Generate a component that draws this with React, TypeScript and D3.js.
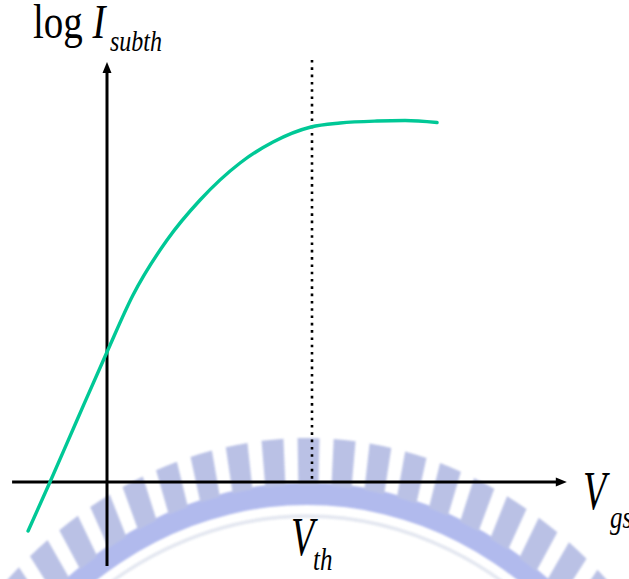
import React from "react";
import * as d3 from "d3";

// Gate voltage (Vth = 1) and log of subthreshold current, in decades
const vgs = [-0.385, -0.278, -0.146, 0, 0.127, 0.293, 0.454, 0.649, 0.81, 0.995, 1.137, 1.317, 1.454, 1.61];
const logI = [-0.49, 0, 0.62, 1.3, 1.87, 2.42, 2.82, 3.19, 3.4, 3.55, 3.59, 3.61, 3.615, 3.595];

const vth = 1;
const xAxisRange = [-0.463, 2.243];
const yAxisRange = [-0.84, 4.2];
const vthLineTop = 4.22;

// gear-shaped seal behind the lower part of the plot
const sealTeeth = d3.range(-19, 20);
const toothStep = 4.6;
const toothOffset = 0.2;
const toothWidth = 2.8;

const W = 629;
const H = 579;

export default function App() {
  const x = d3.scaleLinear().domain([0, 1]).range([107, 312]);
  const y = d3.scaleLinear().domain([0, 1]).range([482, 382]);

  const pts = vgs.map((v, i) => [v, logI[i]] as [number, number]);
  const line = d3
    .line<[number, number]>()
    .x((d) => x(d[0]))
    .y((d) => y(d[1]))
    .curve(d3.curveMonotoneX);

  const rad = Math.PI / 180;
  const band = d3.arc()({
    innerRadius: 396,
    outerRadius: 414,
    startAngle: -90 * rad,
    endAngle: 90 * rad,
  } as any) as string;
  const teeth = sealTeeth.map((k) => {
    const c = k * toothStep + toothOffset;
    return d3.arc()({
      innerRadius: 412,
      outerRadius: 450,
      startAngle: (c - toothWidth / 2) * rad,
      endAngle: (c + toothWidth / 2) * rad,
    } as any) as string;
  });

  const x0 = y(0);
  const yx = x(0);
  const xTip = x(xAxisRange[1]);
  const yTip = y(yAxisRange[1]);

  const stretch = (tx: number, ty: number, s = 1.24) => `translate(${tx},${ty}) scale(1,${s})`;
  const font = "'Liberation Serif', 'Times New Roman', serif";

  return (
    <svg
      width={W}
      height={H}
      style={{ position: "absolute", left: 0, top: 0, display: "block", background: "#fff" }}
    >
      <defs>
        <filter id="soft" x="-10%" y="-10%" width="120%" height="120%">
          <feGaussianBlur stdDeviation="0.9" />
        </filter>
      </defs>

      {/* seal */}
      <g filter="url(#soft)" opacity={0.9}>
        <g transform="translate(307,996) scale(1,1.24)">
          <path d={band} fill="#a9b3ec" />
          {teeth.map((d, i) => (
            <path key={i} d={d} fill="#b3bbe3" />
          ))}
          <circle r={387} fill="none" stroke="#e1e5ef" strokeWidth={3} />
        </g>
      </g>

      {/* threshold voltage marker */}
      <line
        x1={x(vth)}
        x2={x(vth)}
        y1={y(vthLineTop)}
        y2={x0}
        stroke="#000"
        strokeWidth={2.6}
        strokeDasharray="2.6 4.7"
      />

      {/* axes */}
      <line x1={x(xAxisRange[0])} x2={xTip - 8} y1={x0} y2={x0} stroke="#000" strokeWidth={3} />
      <path d={`M${xTip},${x0} L${xTip - 11},${x0 - 4.5} L${xTip - 11},${x0 + 4.5} Z`} fill="#000" />
      <line x1={yx} x2={yx} y1={y(yAxisRange[0])} y2={yTip + 8} stroke="#000" strokeWidth={3} />
      <path d={`M${yx},${yTip} L${yx - 4.5},${yTip + 11} L${yx + 4.5},${yTip + 11} Z`} fill="#000" />

      {/* subthreshold current */}
      <path d={line(pts) as string} fill="none" stroke="#00c896" strokeWidth={3.4} strokeLinecap="round" />

      {/* labels */}
      <g fontFamily={font} fill="#000">
        <text transform={stretch(33, 38)} fontSize={39}>
          log <tspan fontStyle="italic">I</tspan>
        </text>
        <text transform={stretch(110, 51, 1.25)} fontSize={24} fontStyle="italic">
          subth
        </text>
        <text transform={stretch(583, 509, 1.42)} fontSize={38} fontStyle="italic">
          V
        </text>
        <text transform={stretch(610, 528, 1.3)} fontSize={25} fontStyle="italic">
          gs
        </text>
        <text transform={stretch(291, 555, 1.42)} fontSize={38} fontStyle="italic">
          V
        </text>
        <text transform={stretch(313, 570, 1.3)} fontSize={25} fontStyle="italic">
          th
        </text>
      </g>
    </svg>
  );
}
